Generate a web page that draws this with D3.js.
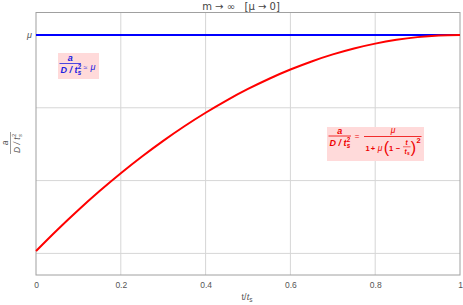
<!DOCTYPE html>
<html>
<head>
<meta charset="utf-8">
<script src="https://cdn.jsdelivr.net/npm/d3@7"></script>
<style>
  body { margin: 0; background: #fff; }
  text { font-family: "Liberation Sans", Arial, sans-serif; }
</style>
</head>
<body>
<div id="chart"></div>
<script>
// Curve samples (a normalised: 0 at t=0, 1 = mu)
const tVals = [0, 0.05, 0.1, 0.15, 0.2, 0.25, 0.3, 0.35, 0.4, 0.45, 0.5, 0.55, 0.6, 0.65, 0.7, 0.75, 0.8, 0.85, 0.9, 0.95, 1];
const aVals = [0, 0.0975, 0.19, 0.2775, 0.36, 0.4375, 0.51, 0.5775, 0.64, 0.6975, 0.75, 0.7975, 0.84, 0.8775, 0.91, 0.9375, 0.96, 0.9775, 0.99, 0.9975, 1];
const muT = [0, 1];
const muVals = [1, 1];
const xTicks = [0, 0.2, 0.4, 0.6, 0.8, 1];
const xTickLabels = ["0", "0.2", "0.4", "0.6", "0.8", "1"];
const yGrid = [1, 0.663, 0.326, -0.011];
const yTicks = [1];
const yTickLabels = ["μ"];

const W = 463, H = 305;
const margin = { top: 12.5, right: 3, bottom: 30, left: 36 };

const svg = d3.select("#chart").append("svg")
  .attr("width", W)
  .attr("height", H);

const x = d3.scaleLinear().domain([0, 1]).range([margin.left, W - margin.right]);
const y = d3.scaleLinear().domain([-0.111, 1.104]).range([H - margin.bottom, margin.top]);

// grid
svg.append("g").selectAll("line")
  .data(xTicks.slice(1, -1))
  .enter().append("line")
  .attr("x1", d => x(d)).attr("x2", d => x(d))
  .attr("y1", y.range()[1]).attr("y2", y.range()[0])
  .attr("stroke", "#d6d6d6").attr("stroke-width", 1);

svg.append("g").selectAll("line")
  .data(yGrid)
  .enter().append("line")
  .attr("x1", x(0)).attr("x2", x(1))
  .attr("y1", d => y(d)).attr("y2", d => y(d))
  .attr("stroke", "#d6d6d6").attr("stroke-width", 1);

// frame
svg.append("rect")
  .attr("x", x(0)).attr("y", y.range()[1])
  .attr("width", x(1) - x(0)).attr("height", y.range()[0] - y.range()[1])
  .attr("fill", "none").attr("stroke", "#a0a0a0").attr("stroke-width", 1);

// axes
const xAxis = d3.axisBottom(x).tickValues(xTicks)
  .tickFormat((d, i) => xTickLabels[i]).tickSize(0).tickPadding(7);
const gx = svg.append("g").attr("transform", `translate(0,${y.range()[0]})`).call(xAxis);
gx.select(".domain").remove();
gx.selectAll("text").attr("fill", "#555").attr("font-size", 8.5);

const yAxis = d3.axisLeft(y).tickValues(yTicks)
  .tickFormat((d, i) => yTickLabels[i]).tickSize(0).tickPadding(4);
const gy = svg.append("g").attr("transform", `translate(${x(0)},0)`).call(yAxis);
gy.select(".domain").remove();
gy.selectAll("text").attr("fill", "#555").attr("font-size", 9).attr("font-style", "italic");

// lines
const line = d3.line().x(d => x(d[0])).y(d => y(d[1])).curve(d3.curveMonotoneX);

svg.append("path")
  .datum(muT.map((t, i) => [t, muVals[i]]))
  .attr("d", line)
  .attr("fill", "none").attr("stroke", "#0000ff").attr("stroke-width", 2);

svg.append("path")
  .datum(tVals.map((t, i) => [t, aVals[i]]))
  .attr("d", line)
  .attr("fill", "none").attr("stroke", "#ff0000").attr("stroke-width", 2);

// title
svg.append("text")
  .attr("x", 241).attr("y", 10)
  .attr("text-anchor", "middle").attr("font-size", 10).attr("fill", "#444")
  .style("font-family", "'DejaVu Sans', sans-serif")
  .text("m → ∞\u00a0\u00a0\u00a0[μ → 0]");

// x label
const xl = svg.append("text")
  .attr("x", 247).attr("y", 300)
  .attr("text-anchor", "middle").attr("font-size", 9).attr("fill", "#555");
xl.append("tspan").text("t/");
xl.append("tspan").attr("font-style", "italic").text("t");
xl.append("tspan").attr("font-size", 6.5).attr("dy", 2).text("s");

// helper: a text piece
function txt(g, px, py, s, o = {}) {
  return g.append("text")
    .attr("x", px).attr("y", py)
    .attr("text-anchor", o.anchor || "middle")
    .attr("font-size", o.size || 9)
    .attr("font-weight", o.weight || "bold")
    .attr("font-style", o.style || "normal")
    .attr("fill", o.color)
    .text(s);
}
function len(t) { return t.node().getComputedTextLength(); }
function bar(g, x1, x2, yy, color, w = 0.8) {
  g.append("line").attr("x1", x1).attr("x2", x2).attr("y1", yy).attr("y2", yy)
    .attr("stroke", color).attr("stroke-width", w);
}
// a / (D / t_s^2) fraction, bar from x0 to x1 at yb
function aOverD(g, x0, x1, yb, color, weight = "bold", size = 9) {
  const cx = (x0 + x1) / 2;
  txt(g, cx, yb - 2.5, "a", { color, style: "italic", size, weight });
  bar(g, x0, x1, yb, color, weight === "bold" ? 0.8 : 0.6);
  const d = txt(g, x0 + 1, yb + 9.5, "D / t", { color, style: "italic", size, weight, anchor: "start" });
  const e = x0 + 1 + len(d) + 0.3;
  txt(g, e, yb + 11.5, "s", { color, style: "italic", size: size * 0.7, weight, anchor: "start" });
  txt(g, e, yb + 5.5, "2", { color, size: size * 0.7, weight, anchor: "start" });
}

// y label (rotated)
const gyl = svg.append("g").attr("transform", "translate(11,143) rotate(-90)");
aOverD(gyl, -11, 11, -0.5, "#555", "normal", 8.5);

// blue label
const blue = "#2020e0";
const gb = svg.append("g");
gb.append("rect").attr("x", 58).attr("y", 53).attr("width", 41).attr("height", 26)
  .attr("fill", "#ffdada");
aOverD(gb, 59.5, 81, 63.5, blue);
txt(gb, 83.5, 69.5, "≈", { color: blue, weight: "normal", size: 7, anchor: "start" });
txt(gb, 90.5, 69.5, "μ", { color: blue, weight: "normal", style: "italic", size: 9, anchor: "start" });

// red label
const red = "#ee0000";
const gr = svg.append("g");
gr.append("rect").attr("x", 327).attr("y", 127).attr("width", 97).attr("height", 34)
  .attr("fill", "#ffdada");
aOverD(gr, 328.5, 351, 136, red);
txt(gr, 357, 138.5, "=", { color: red, weight: "normal", size: 8 });
txt(gr, 393, 133, "μ", { color: red, weight: "normal", style: "italic", size: 8.5 });
bar(gr, 364, 421.5, 136.5, red);
// denominator  1 + μ (1 − t/t_s)^2
txt(gr, 367.5, 150.5, "1", { color: red, size: 7.5 });
txt(gr, 373, 150.5, "+", { color: red, size: 7.5 });
txt(gr, 380, 150.5, "μ", { color: red, weight: "normal", style: "italic", size: 8.5 });
txt(gr, 386.5, 152.5, "(", { color: red, weight: "normal", size: 16 });
txt(gr, 391, 150.5, "1", { color: red, size: 7.5 });
txt(gr, 398, 150.5, "−", { color: red, size: 7.5 });
txt(gr, 406.5, 145, "t", { color: red, style: "italic", size: 6.5 });
bar(gr, 403, 410.5, 146.8, red, 0.6);
txt(gr, 405.5, 153.5, "t", { color: red, style: "italic", size: 6.5 });
txt(gr, 407, 155, "s", { color: red, style: "italic", size: 5, anchor: "start" });
txt(gr, 413.5, 152.5, ")", { color: red, weight: "normal", size: 16 });
txt(gr, 416.5, 143, "2", { color: red, size: 7.5, anchor: "start" });
</script>
</body>
</html>
